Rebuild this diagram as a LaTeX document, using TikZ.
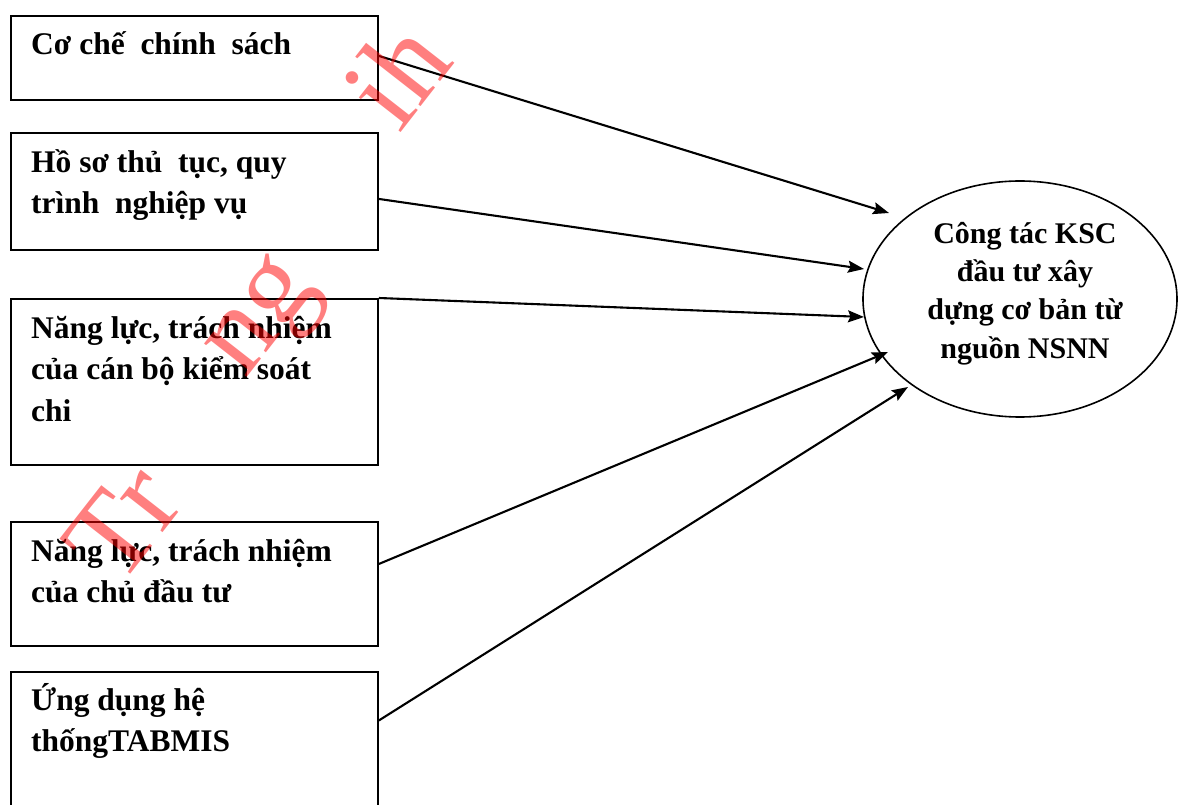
\documentclass[tikz,border=0pt]{standalone}
\usepackage{fontspec}
\setmainfont{Liberation Serif}
\usetikzlibrary{arrows.meta,shapes.geometric,calc}
\tikzset{
  box/.style={draw, line width=1.9pt, rectangle, minimum width=367pt, anchor=north west, inner sep=0pt},
  boxtext/.style={anchor=north west, inner sep=0pt, align=left, font=\fontsize{31.5}{41.5}\selectfont\bfseries},
  elltext/.style={anchor=north, inner sep=0pt, align=center, font=\fontsize{30}{38.3}\selectfont\bfseries},
  ell/.style={draw, line width=1.6pt, ellipse, minimum width=314pt, minimum height=236pt, inner sep=0pt},
  arr/.style={line width=2.1pt, -{Stealth[length=16pt,width=12pt,inset=2.5pt]}},
  wm/.style={text=red, text opacity=0.5, inner sep=0pt, font=\fontsize{118}{118}\selectfont},
}
\newcommand{\fstrut}[1]{\rule{0pt}{#1}}
\begin{document}
\begin{tikzpicture}[x=1pt,y=-1pt]
\useasboundingbox (0,0) rectangle (1179,805);
\fill[white] (0,0) rectangle (1179,805);
% boxes
\node[box, minimum height=84pt]  (b1) at (10,15)  {};
\node[box, minimum height=117pt] (b2) at (10,132) {};
\node[box, minimum height=166pt] (b3) at (10,298) {};
\node[box, minimum height=124pt] (b4) at (10,521) {};
\node[box, minimum height=140pt] (b5) at (10,671) {};
% box texts
\node[boxtext] (t1) at ($(b1.north west)+(21,9)$) {\fstrut{30pt}Cơ chế \ chính \ sách};
\node[boxtext] (t2) at ($(b2.north west)+(21,10)$) {\fstrut{30pt}Hồ sơ thủ \ tục, quy\\trình \ nghiệp vụ};
\node[boxtext] (t3) at ($(b3.north west)+(21,10)$) {\fstrut{30pt}Năng lực, trách nhiệm\\của cán bộ kiểm soát\\chi};
\node[boxtext] (t4) at ($(b4.north west)+(21,10)$) {\fstrut{30pt}Năng lực, trách nhiệm\\của chủ đầu tư};
\node[boxtext] (t5) at ($(b5.north west)+(21,9)$) {\fstrut{30pt}Ứng dụng hệ\\thốngTABMIS};
% ellipse
\node[ell] (e) at (1020,299) {};
\node[elltext] (et) at (1025,215) {\fstrut{28pt}Công tác KSC\\đầu tư xây\\dựng cơ bản từ\\nguồn NSNN};
% arrow tips
\coordinate (p1) at (889,213);
\coordinate (p2) at (864,269);
\coordinate (p3) at (864,317);
\coordinate (p4) at (888,352);
\coordinate (p5) at (908,387);
\draw[arr] ([yshift=2pt]b1.east) -- (p1);
\draw[arr] ([yshift=-7.5pt]b2.east) -- (p2);
\draw[arr] (b3.north east) -- (p3);
\draw[arr] ([yshift=20pt]b4.east) -- (p4);
\draw[arr] ([yshift=21.5pt]b5.east) -- (p5);
% watermark
\node[wm, rotate=52] (w1) at (122,522) {Tr};
\node[wm, rotate=52] (w2) at (268,322) {ng};
\node[wm, rotate=52] (w3) at (395,73) {ih};
\end{tikzpicture}
\end{document}
